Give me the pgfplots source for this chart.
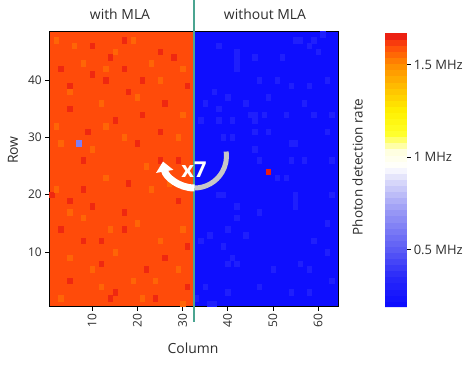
\documentclass[border=0pt]{standalone}
\usepackage{pgfplots}
\usepackage{pgfplotstable}
\pgfplotsset{compat=1.18}
\usepackage{fontspec}
\setmainfont{Open Sans}
\usetikzlibrary{arrows.meta}
\definecolor{tealline}{RGB}{75,165,145}
\definecolor{txt}{RGB}{45,45,45}
\pgfplotstableread{
x y c
16.5 12.5 1.60
48.5 12.5 0.21
16.5 36.5 1.60
48.5 36.5 0.21
}\basedata
\pgfplotstableread{
x y c
10 41 1.645
25 45 1.645
28 44 1.645
17 42 1.645
13 40 1.645
18 38 1.645
5 35 1.645
21 34 1.645
15 33 1.645
26 36 1.645
31 39 1.645
9 31 1.645
20 29 1.645
25 31 1.645
3 42 1.645
17 17 1.645
3 14 1.645
8 12 1.645
12 12 1.645
17 14 1.645
22 7 1.645
26 9 1.645
5 5 1.645
14 2 1.645
24 2 1.645
31 4 1.645
1 20 1.645
10 18 1.645
29 19 1.645
10 46 1.645
17 47 1.645
21 40 1.645
14 44 1.645
5 39 1.645
8 26 1.645
29 26 1.645
25 26 1.645
18 22 1.645
8 21 1.645
12 8 1.645
5 19 1.645
31 11 1.645
15 3 1.645
2 47 1.56
6 46 1.56
8 43 1.56
15 45 1.56
23 43 1.56
30 42 1.56
5 38 1.56
12 36 1.56
20 37 1.56
30 34 1.56
2 32 1.56
13 32 1.56
17 30 1.56
29 30 1.56
10 28 1.56
2 21 1.56
13 23 1.56
23 21 1.56
8 16 1.56
20 15 1.56
30 14 1.56
5 9 1.56
15 10 1.56
25 12 1.56
10 7 1.56
19 5 1.56
29 7 1.56
3 2 1.56
12 4 1.56
21 2 1.56
19 47 1.56
25 40 1.56
13 42 1.56
3 29 1.56
22 25 1.56
27 22 1.56
5 17 1.56
14 14 1.56
24 5 1.56
30 1 1.56
7 29 0.62
49 24 1.66
38 46 0.30
42 45 0.30
42 44 0.30
42 43 0.30
42 42 0.30
46 44 0.30
52 44 0.30
55 47 0.30
56 47 0.30
58 46 0.30
59 47 0.30
61 48 0.30
60 45 0.30
47 40 0.30
51 40 0.30
54 39 0.30
58 39 0.30
62 40 0.30
37 38 0.30
40 37 0.30
49 37 0.30
44 36 0.30
35 36 0.30
38 35 0.30
45 34 0.30
46 34 0.30
48 34 0.30
53 34 0.30
57 36 0.30
59 34 0.30
63 34 0.30
34 33 0.30
38 33 0.30
41 33 0.30
46 33 0.30
49 31 0.30
46 31 0.30
54 29 0.30
55 29 0.30
39 30 0.30
41 30 0.30
46 28 0.30
62 31 0.30
54 26 0.30
57 26 0.30
63 26 0.30
47 26 0.30
51 23 0.30
53 23 0.30
38 20 0.30
39 20 0.30
55 20 0.30
55 19 0.30
55 18 0.30
63 20 0.30
42 18 0.30
47 17 0.30
42 16 0.30
62 15 0.30
40 14 0.30
36 13 0.30
44 13 0.30
34 12 0.30
59 12 0.30
39 11 0.30
62 10 0.30
41 9 0.30
42 8 0.30
40 8 0.30
56 8 0.30
50 7 0.30
58 7 0.30
63 5 0.30
47 4 0.30
35 4 0.30
40 3 0.30
54 3 0.30
58 3 0.30
36 1 0.30
37 1 0.30
33 2 0.30
}\celldata
\begin{document}
\begin{tikzpicture}
\useasboundingbox (0,0) rectangle (474bp,366bp);
\begin{axis}[
  at={(49.3bp,59.5bp)}, anchor=south west,
  scale only axis, width=289bp, height=275.2bp,
  xmin=0.5, xmax=64.5, ymin=0.5, ymax=48.5,
  xtick={10,20,30,40,50,60}, ytick={10,20,30,40},
  tick pos=left, tick align=outside, major tick length=4bp,
  tick style={black, line width=0.6pt},
  xticklabel style={rotate=90, anchor=east},
  tick label style={font=\fontsize{12}{14}\selectfont, text=txt},
  /pgf/number format/assume math mode=true,
  axis line style={line width=0.8pt},
  axis on top,
  colormap={mla}{rgb255(19)=(10,10,255) rgb255(35)=(40,40,250) rgb255(50)=(90,90,245) rgb255(70)=(150,150,245) rgb255(88)=(220,220,250) rgb255(95)=(255,255,255) rgb255(103)=(255,255,225) rgb255(113)=(255,255,40) rgb255(125)=(255,240,0) rgb255(138)=(255,190,0) rgb255(150)=(255,140,0) rgb255(160)=(255,75,10) rgb255(167)=(230,20,20)},
  point meta min=0.19, point meta max=1.67,
  colorbar right,
  colorbar sampled,
  colorbar style={
    at={(parent axis.north east)}, anchor=north west,
    xshift=38bp, yshift=-1.7bp,
    scale only axis, width=22bp, height=274bp,
    samples=46,
    ytick={0.5,1,1.5}, yticklabels={0.5 MHz, 1 MHz, 1.5 MHz},
    ytick pos=right, yticklabel pos=right,
    tick align=outside, major tick length=4bp,
    tick style={black, line width=0.8pt},
    yticklabel style={font=\fontsize{13}{15}\selectfont, text=txt, xshift=-0.5bp},
    axis line style={draw=none},
  },
]
\addplot[matrix plot*, mesh/cols=2, point meta=explicit] table[meta=c] {\basedata};
\addplot[scatter, only marks, mark=square*, mark size=2.17pt,
  scatter/use mapped color={draw=mapped color, fill=mapped color},
  mark options={yscale=1.281, line width=0.2pt},
  point meta=explicit] table[meta=c] {\celldata};
\end{axis}
% divider line
\draw[tealline, line width=2bp] (194bp,366bp) -- (194bp,44bp);
% arrow annotation
\draw[line width=5bp, black!22] (194.5bp,178bp) arc[start angle=-90, end angle=8, radius=32bp];
\draw[line width=7bp, white, -{Triangle[width=17bp,length=10bp]}] (194.5bp,178bp) arc[start angle=-90, end angle=-170, radius=32bp];
\node[white, font=\bfseries\fontsize{22}{22}\selectfont] at (194bp,196bp) {x7};
% labels
\node[txt, font=\fontsize{14}{16}\selectfont] at (120bp,352bp) {with MLA};
\node[txt, font=\fontsize{14}{16}\selectfont] at (265bp,352bp) {without MLA};
\node[txt, font=\fontsize{14}{16}\selectfont] at (193bp,18bp) {Column};
\node[txt, rotate=90, font=\fontsize{14}{16}\selectfont] at (13bp,216bp) {Row};
\node[txt, rotate=90, font=\fontsize{13.5}{15}\selectfont] at (357.5bp,199bp) {Photon detection rate};
\end{tikzpicture}
\end{document}
